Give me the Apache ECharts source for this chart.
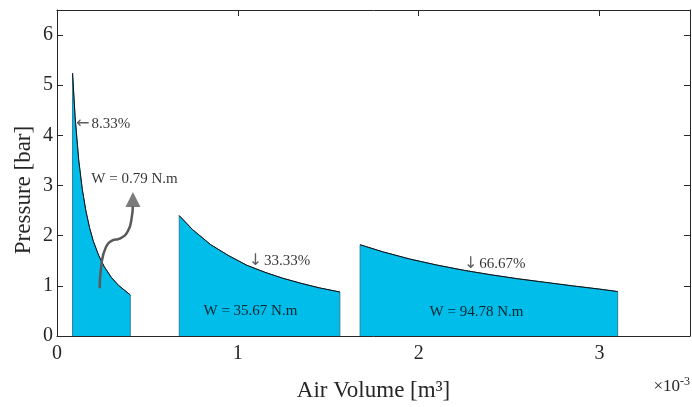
<!DOCTYPE html>
<html><head><meta charset="utf-8">
<script src="https://cdn.jsdelivr.net/npm/echarts@6/dist/echarts.min.js"></script>
<style>html,body{margin:0;padding:0;background:#fff}#c{width:692px;height:407px}</style>
</head><body><div id="c"></div>
<script>
// Stage 1 (8.33%)
const stage1V = [0.086, 0.10, 0.12, 0.14, 0.16, 0.18, 0.20, 0.23, 0.26, 0.30, 0.34, 0.405];
const stage1P = [5.24, 4.37, 3.51, 2.92, 2.49, 2.16, 1.90, 1.61, 1.39, 1.17, 1.01, 0.82];
// Stage 2 (33.33%)
const stage2V = [0.676, 0.75, 0.85, 0.95, 1.05, 1.15, 1.25, 1.35, 1.45, 1.564];
const stage2P = [2.40, 2.12, 1.82, 1.60, 1.41, 1.27, 1.15, 1.05, 0.96, 0.877];
// Stage 3 (66.67%)
const stage3V = [1.676, 1.8, 1.95, 2.1, 2.25, 2.4, 2.55, 2.7, 2.85, 3.0, 3.10];
const stage3P = [1.82, 1.68, 1.535, 1.415, 1.31, 1.22, 1.14, 1.07, 1.0, 0.935, 0.886];
// Curved arrow annotation path (data coords)
const arrowV = [0.236, 0.245, 0.269, 0.309, 0.346, 0.392, 0.414, 0.419];
const arrowP = [0.95, 1.40, 1.76, 1.91, 1.94, 2.09, 2.38, 2.58];
const arrowHead = [0.42, 2.72];
// Text annotations
const noteText = ['{a|\u2190}8.33%', 'W = 0.79 N.m', '{a|\u2193}33.33%', 'W = 35.67 N.m', '{a|\u2193}66.67%', 'W = 94.78 N.m'];
const noteV = [0.105, 0.19, 1.06, 0.81, 2.25, 2.06];
const noteP = [4.23, 3.13, 1.50, 0.49, 1.44, 0.47];
// Axis ticks
const xTickLabels = ['0', '1', '2', '3'];
const yTickLabels = ['0', '1', '2', '3', '4', '5', '6'];

const FONT = '"Liberation Serif", "DejaVu Serif", serif';
const AX = '#262626';
const FILL = '#00BDE9';

function zip(a, b) { return a.map((v, i) => [v, b[i]]); }
function closed(v, p) { return [[v[0], 0]].concat(zip(v, p), [[v[v.length - 1], 0]]); }

const stages = [[stage1V, stage1P], [stage2V, stage2P], [stage3V, stage3P]];
const series = [];
stages.forEach(([v, p]) => {
  series.push({
    type: 'line', data: closed(v, p), symbol: 'none', silent: true,
    lineStyle: { color: '#2a7f9e', width: 1 },
    areaStyle: { color: FILL, opacity: 1 }, z: 2
  });
  series.push({
    type: 'line', data: zip(v, p), symbol: 'none', smooth: false, silent: true,
    lineStyle: { color: '#111', width: 1 }, z: 3
  });
});
series.push({
  type: 'line', data: zip(arrowV, arrowP), symbol: 'none', smooth: 0.5, silent: true,
  lineStyle: { color: '#5a5a5a', width: 2.5 }, z: 5
});
series.push({
  type: 'scatter', data: [arrowHead], symbol: 'triangle', symbolSize: [15, 15], silent: true,
  itemStyle: { color: '#5a5a5a' }, z: 5
});
series.push({
  type: 'scatter', symbolSize: 0, z: 6, silent: true,
  data: noteText.map((t, i) => ({ value: [noteV[i], noteP[i]], name: t })),
  label: {
    show: true, position: 'right', distance: 0, formatter: '{b}',
    fontFamily: FONT, fontSize: 15, color: '#000',
    rich: { a: { fontFamily: '"DejaVu Sans", sans-serif', fontSize: 16, color: '#333', padding: [0, 2, 0, 0] } }
  }
});

const baseAxis = {
  axisLine: { show: true, onZero: false, lineStyle: { color: AX, width: 1 } },
  axisTick: { show: true, inside: true, length: 6, lineStyle: { color: AX } },
  splitLine: { show: false }
};

const chart = echarts.init(document.getElementById('c'));
chart.setOption({
  animation: false,
  grid: { left: 57, right: 2, top: 10, bottom: 66 },
  xAxis: [
    Object.assign({}, baseAxis, {
      type: 'value', min: 0, max: 3.5, interval: 1, position: 'bottom',
      name: 'Air Volume [m\u00B3]', nameLocation: 'middle', nameGap: 43,
      nameTextStyle: { fontFamily: FONT, fontSize: 23, color: AX },
      axisLabel: {
        fontFamily: FONT, fontSize: 20, color: AX, margin: 8, showMaxLabel: false,
        formatter: v => Math.abs(v - Math.round(v)) < 1e-6 && xTickLabels[Math.round(v)] !== undefined ? xTickLabels[Math.round(v)] : ''
      }
    }),
    Object.assign({}, baseAxis, {
      type: 'value', min: 0, max: 3.5, interval: 1, position: 'top',
      axisLabel: { show: false }
    })
  ],
  yAxis: [
    Object.assign({}, baseAxis, {
      type: 'value', min: 0, max: 6.5, interval: 1, position: 'left',
      axisLabel: {
        fontFamily: FONT, fontSize: 20, color: AX, margin: 4, showMaxLabel: false,
        formatter: v => Math.abs(v - Math.round(v)) < 1e-6 && yTickLabels[Math.round(v)] !== undefined ? yTickLabels[Math.round(v)] : ''
      }
    }),
    Object.assign({}, baseAxis, {
      type: 'value', min: 0, max: 6.5, interval: 1, position: 'right',
      axisLabel: { show: false }
    })
  ],
  graphic: [{
    type: 'text', x: 24, y: 190, rotation: Math.PI / 2,
    style: {
      text: 'Pressure [bar]', fontFamily: FONT, fontSize: 23, fill: AX,
      align: 'center', verticalAlign: 'middle'
    }
  }, {
    type: 'text', right: 2, top: 376,
    style: {
      text: '\u00D710{s|-3}', fontFamily: FONT, fontSize: 17, fill: AX,
      rich: { s: { fontFamily: FONT, fontSize: 12, fill: AX, padding: [0, 0, 10, 0] } }
    }
  }],
  series: series
});
</script>
</body></html>
